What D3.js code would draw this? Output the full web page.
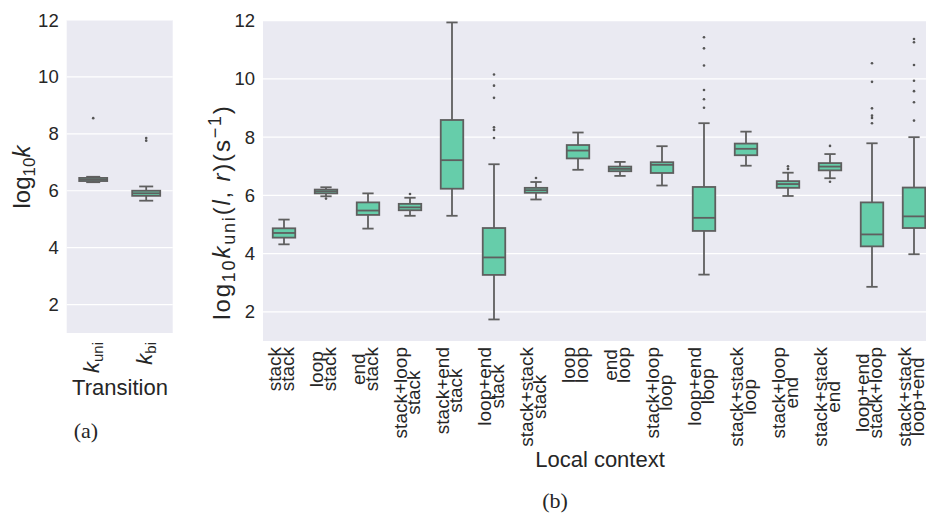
<!DOCTYPE html>
<html>
<head>
<meta charset="utf-8">
<script src="https://cdn.jsdelivr.net/npm/d3@7"></script>
<style>
  body { margin: 0; background: #fff; }
  text { font-family: "Liberation Sans", Arial, sans-serif; fill: #262626; }
  .serif { font-family: "Liberation Serif", "DejaVu Serif", serif; }
</style>
</head>
<body>
<div id="vis"></div>
<script>
// panel (a): transition types
const transLabels = ["uni", "bi"];
const transLow = [6.30, 5.65];
const transQ1 = [6.34, 5.82];
const transMed = [6.39, 5.91];
const transQ3 = [6.45, 6.00];
const transHigh = [6.49, 6.15];
const transOutliers = [[8.55], [7.85, 7.76]];

// panel (b): local contexts (two lines per label)
const ctxLabels = [
    ["stack", "stack"], ["loop", "stack"], ["end", "stack"], ["stack+loop", "stack"],
    ["stack+end", "stack"], ["loop+end", "stack"], ["stack+stack", "stack"], ["loop", "loop"],
    ["end", "loop"], ["stack+loop", "loop"], ["loop+end", "loop"], ["stack+stack", "loop"],
    ["stack+loop", "end"], ["stack+stack", "end"], ["loop+end", "stack+loop"], ["stack+stack", "loop+end"]
];
const ctxLow = [4.32, 5.97, 4.86, 5.30, 5.30, 1.74, 5.86, 6.88, 6.67, 6.34, 3.28, 7.02, 5.98, 6.59, 2.86, 3.98];
const ctxQ1 = [4.55, 6.07, 5.33, 5.49, 6.23, 3.27, 6.09, 7.27, 6.83, 6.77, 4.78, 7.38, 6.26, 6.86, 4.25, 4.88];
const ctxMed = [4.71, 6.14, 5.48, 5.59, 7.21, 3.87, 6.18, 7.54, 6.91, 7.05, 5.23, 7.60, 6.39, 6.99, 4.66, 5.28];
const ctxQ3 = [4.87, 6.20, 5.76, 5.71, 8.59, 4.88, 6.26, 7.73, 6.99, 7.14, 6.29, 7.78, 6.49, 7.11, 5.76, 6.27];
const ctxHigh = [5.17, 6.28, 6.07, 5.92, 11.94, 7.07, 6.46, 8.16, 7.15, 7.69, 8.48, 8.19, 6.78, 7.42, 7.79, 8.00];
const ctxOutliers = [
    [], [5.89], [], [6.05], [],
    [10.15, 9.77, 9.35, 8.34, 8.25, 7.97],
    [6.60], [], [], [],
    [11.43, 11.05, 10.46, 9.62, 9.30, 9.01],
    [], [7.00, 6.91], [7.70, 6.47],
    [10.54, 9.90, 8.99, 8.74, 8.66, 8.48],
    [11.37, 11.26, 10.48, 9.94, 9.58, 9.20, 8.57]
];
const yTicks = [2, 4, 6, 8, 10, 12];

const width = 926, height = 514;
const fillColor = "#66cdaa", edgeColor = "#5f5f5f", bgColor = "#eaeaf2";

const svg = d3.select("#vis").append("svg")
    .attr("width", width)
    .attr("height", height);

function drawPanel(opts) {
    const g = svg.append("g");
    const x = d3.scaleBand().domain(d3.range(opts.n)).range([opts.left, opts.right]).padding(0);
    const y = d3.scaleLinear().domain([1, 12]).range([opts.bottom, opts.top]);

    g.append("rect")
        .attr("x", opts.left).attr("y", opts.top)
        .attr("width", opts.right - opts.left).attr("height", opts.bottom - opts.top)
        .attr("fill", bgColor);

    g.selectAll("line.grid").data(yTicks).enter().append("line")
        .attr("class", "grid")
        .attr("x1", opts.left).attr("x2", opts.right)
        .attr("y1", d => y(d)).attr("y2", d => y(d))
        .attr("stroke", "#fff").attr("stroke-width", 1.2);

    g.selectAll("text.ytick").data(yTicks).enter().append("text")
        .attr("class", "ytick")
        .attr("x", opts.left - 8).attr("y", d => y(d))
        .attr("text-anchor", "end").attr("dominant-baseline", "central")
        .style("font-size", "18.5px")
        .text(d => d);

    const bw = x.bandwidth();
    const boxW = bw * 0.5 + 1.5;
    const capW = boxW / 2;
    const idx = d3.range(opts.n);
    const cx = i => x(i) + bw / 2;

    const box = g.selectAll("g.box").data(idx).enter().append("g").attr("class", "box");

    // whiskers
    box.append("line")
        .attr("x1", cx).attr("x2", cx)
        .attr("y1", i => y(opts.high[i])).attr("y2", i => y(opts.q3[i]));
    box.append("line")
        .attr("x1", cx).attr("x2", cx)
        .attr("y1", i => y(opts.q1[i])).attr("y2", i => y(opts.low[i]));
    // caps
    box.append("line")
        .attr("x1", i => cx(i) - capW / 2).attr("x2", i => cx(i) + capW / 2)
        .attr("y1", i => y(opts.high[i])).attr("y2", i => y(opts.high[i]));
    box.append("line")
        .attr("x1", i => cx(i) - capW / 2).attr("x2", i => cx(i) + capW / 2)
        .attr("y1", i => y(opts.low[i])).attr("y2", i => y(opts.low[i]));
    // box
    box.append("rect")
        .attr("x", i => cx(i) - boxW / 2)
        .attr("width", boxW)
        .attr("y", i => y(opts.q3[i]))
        .attr("height", i => y(opts.q1[i]) - y(opts.q3[i]))
        .attr("fill", fillColor);
    // median
    box.append("line")
        .attr("x1", i => cx(i) - boxW / 2).attr("x2", i => cx(i) + boxW / 2)
        .attr("y1", i => y(opts.med[i])).attr("y2", i => y(opts.med[i]));

    box.selectAll("line, rect")
        .attr("stroke", edgeColor).attr("stroke-width", 1.8);

    // outliers
    box.selectAll("circle").data(i => opts.out[i].map(v => ({ i, v }))).enter().append("circle")
        .attr("cx", d => cx(d.i)).attr("cy", d => y(d.v))
        .attr("r", 1.3)
        .attr("fill", "#555");

    return { x, y, cx };
}

// ---- panel (a)
const pa = drawPanel({
    n: 2, left: 66.7, right: 172.7, top: 20, bottom: 333,
    low: transLow, q1: transQ1, med: transMed, q3: transQ3, high: transHigh, out: transOutliers
});

transLabels.forEach((lab, i) => {
    const t = svg.append("text")
        .attr("transform", `translate(${pa.cx(i) + 6},${342}) rotate(-90)`)
        .attr("text-anchor", "end")
        .style("font-size", "22px");
    t.append("tspan").style("font-style", "italic").text("k");
    t.append("tspan").attr("dy", 4).style("font-size", "15px").text(lab);
});

const ylabA = svg.append("text")
    .attr("transform", "translate(30,177) rotate(-90)")
    .attr("text-anchor", "middle")
    .style("font-size", "24px");
ylabA.append("tspan").text("log");
ylabA.append("tspan").attr("dy", 5).style("font-size", "17px").text("10");
ylabA.append("tspan").attr("dy", -5).style("font-style", "italic").text("k");

svg.append("text")
    .attr("x", 120).attr("y", 395)
    .attr("text-anchor", "middle")
    .style("font-size", "22px")
    .text("Transition");

svg.append("text").attr("class", "serif")
    .attr("x", 86).attr("y", 438)
    .attr("text-anchor", "middle")
    .style("font-size", "22px")
    .text("(a)");

// ---- panel (b)
const pb = drawPanel({
    n: ctxLabels.length, left: 263, right: 935, top: 20.7, bottom: 341,
    low: ctxLow, q1: ctxQ1, med: ctxMed, q3: ctxQ3, high: ctxHigh, out: ctxOutliers
});

const lineGap = 13;
ctxLabels.forEach((lines, i) => {
    const grp = svg.append("g");
    const texts = lines.map((s, k) => grp.append("text")
        .style("font-size", "19px")
        .attr("text-anchor", "middle")
        .text(s));
    const maxLen = d3.max(texts, t => t.node().getComputedTextLength());
    const yc = 347 + maxLen / 2;
    texts.forEach((t, k) => {
        const bx = pb.cx(i) + 3 + (k - 0.5) * lineGap;
        t.attr("transform", `translate(${bx},${yc}) rotate(-90)`);
    });
});

const ylabB = svg.append("text")
    .attr("transform", "translate(230,212) rotate(-90)")
    .attr("text-anchor", "middle")
    .style("font-size", "24px")
    .style("letter-spacing", "1.8px");
ylabB.append("tspan").text("log");
ylabB.append("tspan").attr("dy", 5).style("font-size", "18px").text("10");
ylabB.append("tspan").attr("dy", -5).style("font-style", "italic").text("k");
ylabB.append("tspan").attr("dy", 5).style("font-size", "18px").text("uni");
ylabB.append("tspan").attr("dy", -5).text("(");
ylabB.append("tspan").style("font-style", "italic").text("l");
ylabB.append("tspan").text(", ");
ylabB.append("tspan").style("font-style", "italic").text("r");
ylabB.append("tspan").text(")(s");
ylabB.append("tspan").attr("dy", -9).style("font-size", "18px").text("\u22121");
ylabB.append("tspan").attr("dy", 9).text(")");

svg.append("text")
    .attr("x", 600).attr("y", 467)
    .attr("text-anchor", "middle")
    .style("font-size", "22px")
    .text("Local context");

svg.append("text").attr("class", "serif")
    .attr("x", 555).attr("y", 508)
    .attr("text-anchor", "middle")
    .style("font-size", "22px")
    .text("(b)");
</script>
</body>
</html>
